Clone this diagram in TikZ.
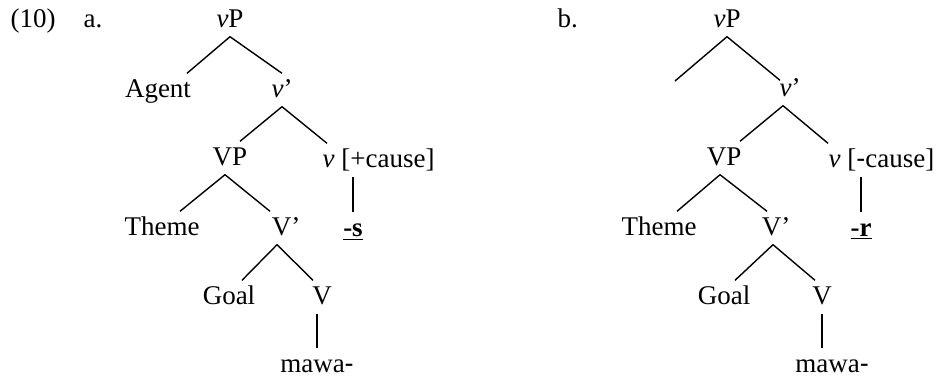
\documentclass[tikz,border=0pt]{standalone}
\usepackage{fontspec}
\setmainfont{Liberation Serif}
\newfontfamily\arialfam{Liberation Sans}
\newcommand{\sanshyph}{{\arialfam -}}

\begin{document}
\begin{tikzpicture}[x=0.5pt,y=-0.5pt,line width=0.7pt,
  lab/.style={anchor=base,inner sep=1.5pt,text height=10pt,text depth=3pt,font=\fontsize{13.5}{16}\selectfont}]
\useasboundingbox (0,0) rectangle (940,380);
\node[lab,anchor=base west] (num) at (7,27) {(10)};
\node[lab,anchor=base west] (ia) at (80,27) {a.};
\node[lab] (vPa) at (230,27) {\textit{v}P};
\node[lab] (agA) at (158,97) {Agent};
\node[lab] (vbarA) at (282,97) {\textit{v}'};
\node[lab] (VPa) at (230,165) {VP};
\node[lab,anchor=base west] (vcA) at (319,167) {\textit{v} [+cause]};
\node[lab] (thA) at (162,235) {Theme};
\node[lab] (VbarA) at (286,235) {V'};
\node[lab] (sufA) at (353,236) {\underline{\textbf{-s}}};
\node[lab] (goA) at (229,304) {Goal};
\node[lab] (VA) at (322,304) {V};
\node[lab] (mwA) at (317,372) {mawa\sanshyph};
\draw (vPa.south) -- ([xshift=14.5pt]agA.north);
\draw (vPa.south) -- (vbarA.north);
\draw (vbarA.south) -- ([xshift=5pt]VPa.north);
\draw (vbarA.south) -- ([xshift=4pt]vcA.north west);
\draw ([xshift=-2.5pt]VPa.south) -- ([xshift=9pt]thA.north);
\draw ([xshift=-2.5pt]VPa.south) -- ([xshift=-8pt]VbarA.north);
\draw ([xshift=-4.5pt]VbarA.south) -- ([xshift=6.5pt]goA.north);
\draw ([xshift=-4.5pt]VbarA.south) -- ([xshift=-4.5pt]VA.north);
\draw (sufA.north) -- (sufA.north |- vcA.south);
\draw (mwA.north) -- (mwA.north |- VA.south);

\node[lab,anchor=base west] (ib) at (554,27) {b.};
\node[lab] (vPb) at (727,27) {\textit{v}P};
\coordinate (gapB) at (675,81);
\node[lab] (vbarB) at (790,96) {\textit{v}'};
\node[lab] (VPb) at (724,165) {VP};
\node[lab,anchor=base west] (vcB) at (825,167) {\textit{v} [\sanshyph cause]};
\node[lab] (thB) at (659,235) {Theme};
\node[lab] (VbarB) at (776,235) {V'};
\node[lab] (sufB) at (861,236) {\underline{\textbf{-r}}};
\node[lab] (goB) at (724,304) {Goal};
\node[lab] (VB) at (822,304) {V};
\node[lab] (mwB) at (832,372) {mawa\sanshyph};
\draw (vPb.south) -- (gapB);
\draw (vPb.south) -- ([xshift=-5pt,yshift=-4pt]vbarB.north);
\draw ([xshift=-3.5pt]vbarB.south) -- ([xshift=8pt]VPb.north);
\draw ([xshift=-3.5pt]vbarB.south) -- ([xshift=1.5pt]vcB.north west);
\draw ([xshift=-2pt]VPb.south) -- ([xshift=9pt]thB.north);
\draw ([xshift=-2pt]VPb.south) -- ([xshift=-4.5pt]VbarB.north);
\draw ([xshift=-1.5pt]VbarB.south) -- ([xshift=5.5pt]goB.north);
\draw ([xshift=-1.5pt]VbarB.south) -- ([xshift=-3.5pt]VB.north);
\draw (sufB.north) -- (sufB.north |- vcB.south);
\draw (VB.south) -- (VB.south |- mwB.north);
\end{tikzpicture}
\end{document}
